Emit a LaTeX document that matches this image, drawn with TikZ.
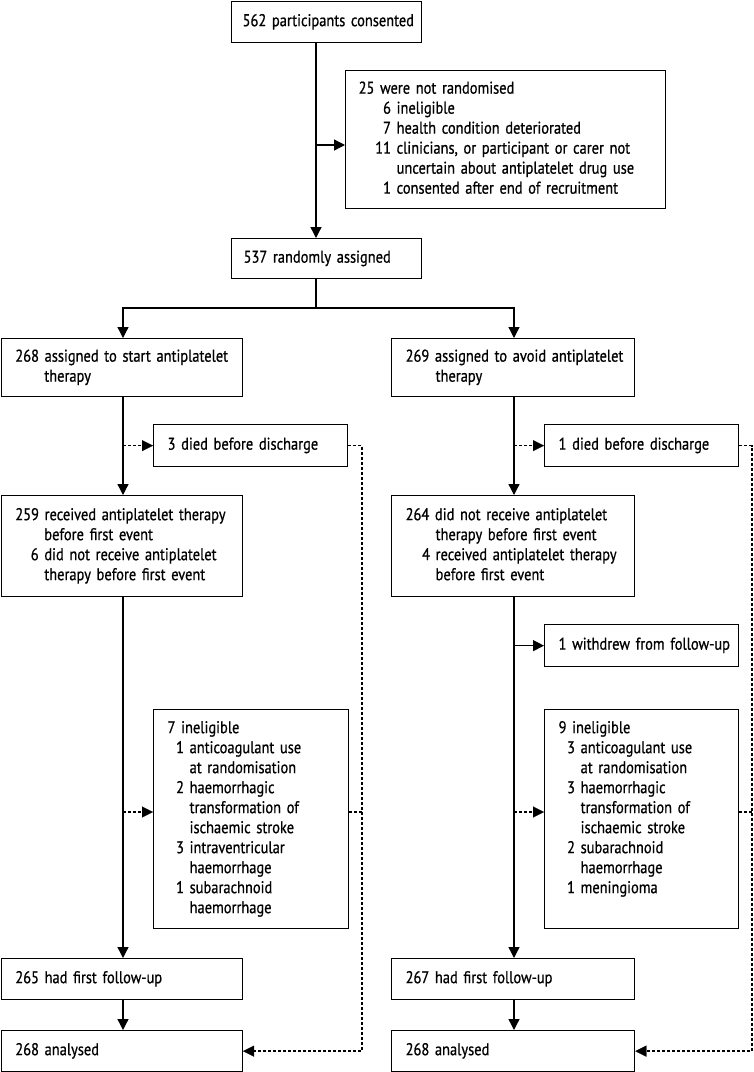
\documentclass[tikz,border=0pt]{standalone}
\usepackage{fontspec}
\setmainfont{PT Sans}[FakeStretch=0.85,FakeBold=0.7]
\usetikzlibrary{arrows.meta}
\newcommand\nb[2]{\makebox[#1][r]{#2\ }}
\newcommand\ct[1]{\hspace*{#1}}
\newcommand\tb[1]{\begin{tabular}{@{}l@{}}#1\end{tabular}}
\begin{document}
\begin{tikzpicture}[x=1pt,y=-1pt,
  box/.style={draw, line width=1.3pt, anchor=north west, inner xsep=14pt, inner ysep=0pt,
    align=left, font=\fontsize{17}{20}\selectfont},
  arr/.style={line width=1.3pt, -{Triangle[length=11pt,width=11pt]}},
  dasharr/.style={line width=1.6pt, dash pattern=on 3pt off 2pt, -{Triangle[length=11pt,width=11pt,line width=0.1pt]}},
  dotline/.style={line width=1.6pt, dash pattern=on 3pt off 2pt},
  plain/.style={line width=1.3pt}]
\useasboundingbox (0,0) rectangle (754,1072);
% boxes
\node[box, inner xsep=11pt, text width=168pt, minimum height=41pt] (consent) at (231,1) {\tb{562 participants consented}};
\node[box, inner xsep=13pt, text width=294pt, minimum height=138pt] (notrand) at (345,70) {\tb{25 were not randomised\\
\nb{38pt}{6}ineligible\\
\nb{38pt}{7}health condition deteriorated\\
\nb{38pt}{11}clinicians, or participant or carer not\\
\ct{38pt}uncertain about antiplatelet drug use\\
\nb{38pt}{1}consented after end of recruitment}};
\node[box, inner xsep=12pt, text width=166pt, minimum height=40pt] (rand) at (231,238) {\tb{537 randomly assigned}};
% left column
\node[box, text width=213pt, minimum height=58pt] (assignL) at (0.7,338) {\tb{268 assigned to start antiplatelet\\ \ct{29pt}therapy}};
\node[box, text width=166pt, minimum height=42pt] (diedL) at (153,424) {\tb{3 died before discharge}};
\node[box, text width=213pt, minimum height=101pt] (recvL) at (0.7,495) {\tb{259 received antiplatelet therapy\\
\ct{29pt}before first event\\
\nb{29pt}{6}did not receive antiplatelet\\
\ct{29pt}therapy before first event}};
\node[box, text width=167pt, minimum height=219pt] (inelL) at (153,709) {\tb{7 ineligible\\
\nb{22pt}{1}anticoagulant use\\
\ct{22pt}at randomisation\\
\nb{22pt}{2}haemorrhagic\\
\ct{22pt}transformation of\\
\ct{22pt}ischaemic stroke\\
\nb{22pt}{3}intraventricular\\
\ct{22pt}haemorrhage\\
\nb{22pt}{1}subarachnoid\\
\ct{22pt}haemorrhage}};
\node[box, text width=213pt, minimum height=41pt] (fuL) at (0.7,958) {\tb{265 had first follow-up}};
\node[box, text width=213pt, minimum height=41pt] (anL) at (0.7,1030) {\tb{268 analysed}};
% right column
\node[box, text width=215pt, minimum height=58pt] (assignR) at (391,338) {\tb{269 assigned to avoid antiplatelet\\ \ct{30pt}therapy}};
\node[box, text width=166pt, minimum height=42pt] (diedR) at (544,424) {\tb{1 died before discharge}};
\node[box, text width=215pt, minimum height=101pt] (recvR) at (391,495) {\tb{264 did not receive antiplatelet\\
\ct{30pt}therapy before first event\\
\nb{30pt}{4}received antiplatelet therapy\\
\ct{30pt}before first event}};
\node[box, text width=166pt, minimum height=42pt] (withdrew) at (544,624) {\tb{1 withdrew from follow-up}};
\node[box, text width=166pt, minimum height=219pt] (inelR) at (544,709) {\tb{9 ineligible\\
\nb{22pt}{3}anticoagulant use\\
\ct{22pt}at randomisation\\
\nb{22pt}{3}haemorrhagic\\
\ct{22pt}transformation of\\
\ct{22pt}ischaemic stroke\\
\nb{22pt}{2}subarachnoid\\
\ct{22pt}haemorrhage\\
\nb{22pt}{1}meningioma\\
~}};
\node[box, text width=215pt, minimum height=41pt] (fuR) at (391,958) {\tb{267 had first follow-up}};
\node[box, text width=215pt, minimum height=41pt] (anR) at (391,1030) {\tb{268 analysed}};
% helper coordinates
\coordinate (trunk) at (316,145);
\coordinate (split) at (316,308);
\coordinate (xl) at (123,0);
\coordinate (xr) at (514,0);
\coordinate (dL) at (123,812);
\coordinate (dR) at (514,812);
\coordinate (vl) at (362,0);
\coordinate (vr) at (752,0);
% top connectors
\draw[arr] (consent.south -| trunk) -- (rand.north -| trunk);
\draw[arr] (trunk) -- (notrand.west |- trunk);
\draw[plain] (rand.south -| split) -- (split);
\draw[arr] (split) -| (assignL.north -| xl);
\draw[arr] (split) -| (assignR.north -| xr);
% left column connectors
\draw[arr] (assignL.south -| xl) -- (recvL.north -| xl);
\draw[dasharr] (xl |- diedL.west) -- (diedL.west);
\draw[arr] (recvL.south -| xl) -- (fuL.north -| xl);
\draw[dasharr] (dL) -- (inelL.west |- dL);
\draw[arr] (fuL.south -| xl) -- (anL.north -| xl);
\draw[dasharr] (diedL.east) -| (vl |- anL.east) -- (anL.east);
\draw[dotline] (inelL.east |- dL) -- (vl |- dL);
% right column connectors
\draw[arr] (assignR.south -| xr) -- (recvR.north -| xr);
\draw[dasharr] (xr |- diedR.west) -- (diedR.west);
\draw[arr] (recvR.south -| xr) -- (fuR.north -| xr);
\draw[arr] (xr |- withdrew.west) -- (withdrew.west);
\draw[dasharr] (dR) -- (inelR.west |- dR);
\draw[arr] (fuR.south -| xr) -- (anR.north -| xr);
\draw[dasharr] (diedR.east) -| (vr |- anR.east) -- (anR.east);
\draw[dotline] (inelR.east |- dR) -- (vr |- dR);
\end{tikzpicture}
\end{document}
